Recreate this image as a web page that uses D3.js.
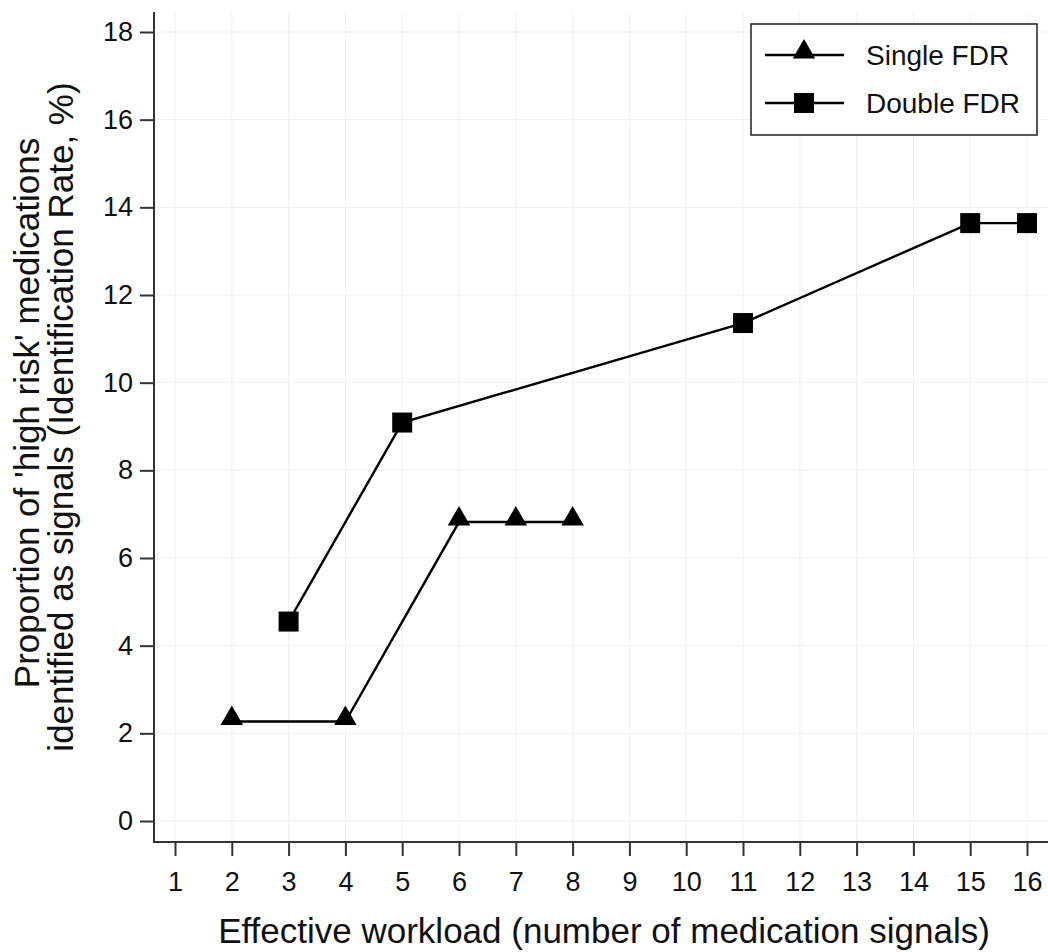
<!DOCTYPE html>
<html>
<head>
<meta charset="utf-8">
<script src="https://cdn.jsdelivr.net/npm/d3@7"></script>
<style>
  body { margin: 0; background: #fff; }
  text { font-family: "Liberation Sans", Arial, sans-serif; fill: #111; }
</style>
</head>
<body>
<svg width="1048" height="952"></svg>
<script>
// data
var xTicks = [1, 2, 3, 4, 5, 6, 7, 8, 9, 10, 11, 12, 13, 14, 15, 16];
var yTicks = [0, 2, 4, 6, 8, 10, 12, 14, 16, 18];

var singleX = [2, 4, 6, 7, 8];
var singleY = [2.27, 2.27, 6.82, 6.82, 6.82];
var doubleX = [3, 5, 11, 15, 16];
var doubleY = [4.55, 9.09, 11.36, 13.64, 13.64];

var seriesNames = ["Single FDR", "Double FDR"];

var svg = d3.select("svg");

var x = d3.scaleLinear().domain([1, 16]).range([175, 1027]);
var y = d3.scaleLinear().domain([0, 18]).range([821, 32]);

var axisX = 842, axisY = 154;

// grid
var grid = svg.append("g");
grid.selectAll(".vg").data(xTicks).enter().append("line")
    .attr("x1", function(d) { return x(d); })
    .attr("x2", function(d) { return x(d); })
    .attr("y1", 12).attr("y2", axisX)
    .attr("stroke", "#efefef").attr("stroke-width", 1);
grid.selectAll(".hg").data(yTicks).enter().append("line")
    .attr("x1", axisY).attr("x2", 1048)
    .attr("y1", function(d) { return y(d); })
    .attr("y2", function(d) { return y(d); })
    .attr("stroke", "#efefef").attr("stroke-width", 1);

// axes
var gx = svg.append("g")
    .attr("transform", "translate(0," + axisX + ")")
    .call(d3.axisBottom(x).tickValues(xTicks).tickSize(14).tickPadding(16).tickFormat(d3.format("d")));
gx.select(".domain").remove();
gx.append("line").attr("x1", axisY).attr("x2", 1048).attr("y1", 0).attr("y2", 0)
    .attr("stroke", "#333").attr("stroke-width", 2);

var gy = svg.append("g")
    .attr("transform", "translate(" + axisY + ",0)")
    .call(d3.axisLeft(y).tickValues(yTicks).tickSize(14).tickPadding(7).tickFormat(d3.format("d")));
gy.select(".domain").remove();
gy.append("line").attr("x1", 0).attr("x2", 0).attr("y1", 12).attr("y2", axisX + 1)
    .attr("stroke", "#333").attr("stroke-width", 2);

svg.selectAll(".tick line").attr("stroke", "#333").attr("stroke-width", 2);
svg.selectAll(".tick text")
    .style("font-family", "'Liberation Sans', Arial, sans-serif")
    .style("font-size", "27px").attr("fill", "#111");

// axis titles
svg.append("text")
    .attr("x", 604).attr("y", 943)
    .attr("text-anchor", "middle")
    .style("font-size", "35px")
    .text("Effective workload (number of medication signals)");

svg.append("text")
    .attr("transform", "translate(39,413) rotate(-90)")
    .attr("text-anchor", "middle")
    .style("font-size", "35px")
    .text("Proportion of 'high risk' medications");
svg.append("text")
    .attr("transform", "translate(73,417) rotate(-90)")
    .attr("text-anchor", "middle")
    .style("font-size", "35px")
    .text("identified as signals (Identification Rate,  %)");

// series
var line = d3.line()
    .x(function(d) { return x(d[0]); })
    .y(function(d) { return y(d[1]); });

var single = d3.zip(singleX, singleY);
var dbl = d3.zip(doubleX, doubleY);

svg.append("path").datum(single).attr("d", line)
    .attr("fill", "none").attr("stroke", "#000").attr("stroke-width", 2.4);
svg.append("path").datum(dbl).attr("d", line)
    .attr("fill", "none").attr("stroke", "#000").attr("stroke-width", 2.4);

var tri = d3.symbol().type(d3.symbolTriangle).size(220);
var sq = d3.symbol().type(d3.symbolSquare).size(400);

svg.selectAll(".tri").data(single).enter().append("path")
    .attr("d", tri)
    .attr("transform", function(d) { return "translate(" + x(d[0]) + "," + (y(d[1]) - 3) + ")"; })
    .attr("fill", "#000");
svg.selectAll(".sq").data(dbl).enter().append("path")
    .attr("d", sq)
    .attr("transform", function(d) { return "translate(" + x(d[0]) + "," + y(d[1]) + ")"; })
    .attr("fill", "#000");

// legend
var lg = svg.append("g");
lg.append("rect").attr("x", 751).attr("y", 24).attr("width", 286).attr("height", 111)
    .attr("fill", "#fff").attr("stroke", "#222").attr("stroke-width", 1.5);

[0, 1].forEach(function(i) {
    var ly = 55 + i * 48;
    lg.append("line").attr("x1", 765).attr("x2", 844).attr("y1", ly).attr("y2", ly)
        .attr("stroke", "#000").attr("stroke-width", 2.4);
    lg.append("path")
        .attr("d", i === 0 ? tri : sq)
        .attr("transform", "translate(804," + (i === 0 ? ly - 3 : ly) + ")")
        .attr("fill", "#000");
    lg.append("text").attr("x", 866).attr("y", ly + 10)
        .style("font-size", "28px")
        .text(seriesNames[i]);
});
</script>
</body>
</html>
